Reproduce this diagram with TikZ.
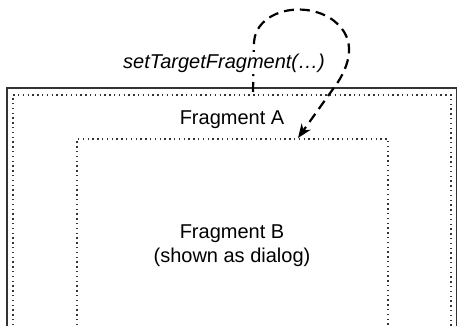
\documentclass[tikz,border=0pt]{standalone}
\usepackage{fontspec}
\setmainfont{Liberation Sans}
\usetikzlibrary{arrows.meta}
\begin{document}
\begin{tikzpicture}[x=1pt,y=-1pt,
  dotbox/.style={draw=black!80, line width=1.4pt, dash pattern=on 1.4pt off 3.4pt},
  lbl/.style={font=\fontsize{20}{24}\selectfont, align=center, inner sep=1pt},
  callarrow/.style={line width=2.2pt, dash pattern=on 10pt off 6pt, -{Stealth[length=14pt,width=11pt]}}]
\useasboundingbox (0,0) rectangle (458,325);
% outer frame
\draw[line width=1.8pt, draw=black!80] (7,330) -- (7,88) -- (456.5,88) -- (456.5,330);
% Fragment A area
\draw[dotbox] (13,330) -- (13,95) -- (451,95) -- (451,330);
% Fragment B area
\draw[dotbox] (77,330) -- (77,139) -- (388,139) -- (388,330);
\node[lbl] (fa) at (232,120) {Fragment A};
\node[lbl] (fb) at (232,246) {Fragment B\\(shown as dialog)};
\coordinate (start) at (253,92);
\coordinate (tip) at (298,138);
\draw[callarrow] (start) -- (254,42) .. controls (256,12) and (300,0) .. (330,18)
  .. controls (356,35) and (352,60) .. (338,82) -- (tip);
\node[lbl, fill=white, inner sep=2pt, font=\fontsize{20}{24}\selectfont\itshape] (call) at (224,63) {setTargetFragment(…)};
\end{tikzpicture}
\end{document}
